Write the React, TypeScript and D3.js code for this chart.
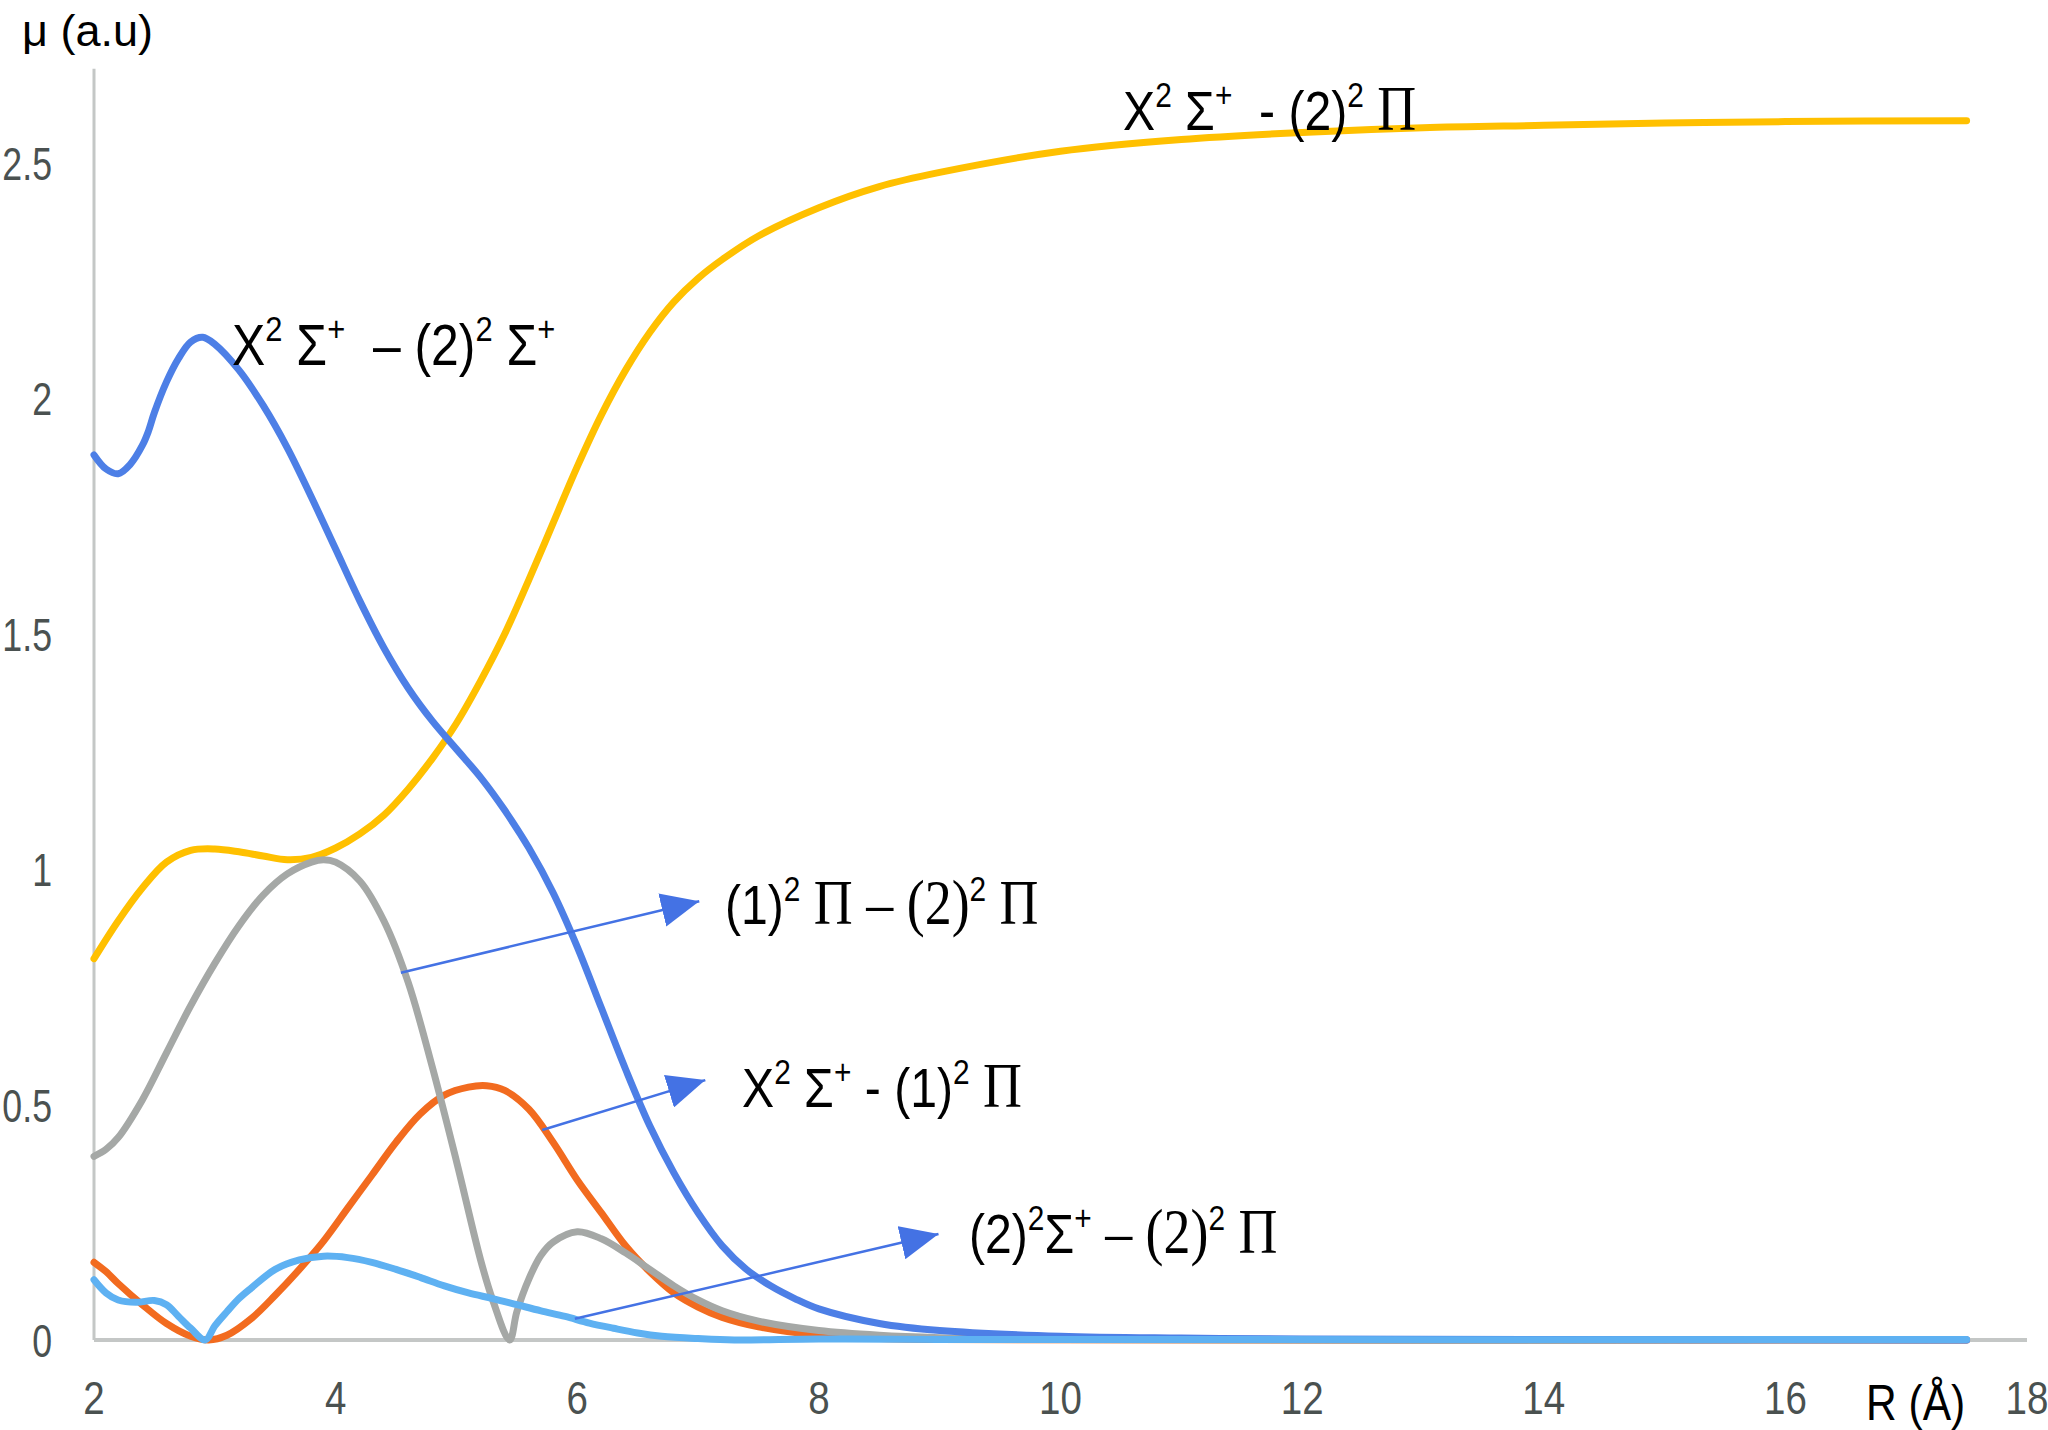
import React from "react";
import * as d3 from "d3";

// ---- data ----
const yellowX = [2, 2.2, 2.4, 2.6, 2.8, 3.0, 3.2, 3.4, 3.6, 3.8, 4.0, 4.2, 4.4, 4.6, 4.8, 5.0, 5.2, 5.4, 5.6, 5.8, 6.0, 6.2, 6.4, 6.6, 6.8, 7.0, 7.2, 7.5, 8, 8.5, 9, 10, 11, 12, 13, 14, 15, 16, 17.5];
const yellowY = [0.81, 0.89, 0.96, 1.015, 1.04, 1.043, 1.037, 1.028, 1.02, 1.025, 1.045, 1.075, 1.115, 1.17, 1.235, 1.31, 1.40, 1.50, 1.615, 1.735, 1.855, 1.965, 2.06, 2.14, 2.205, 2.255, 2.295, 2.345, 2.405, 2.45, 2.48, 2.525, 2.55, 2.565, 2.575, 2.58, 2.585, 2.588, 2.59];

const blueX = [2.0, 2.1, 2.2, 2.3, 2.4, 2.45, 2.5, 2.6, 2.7, 2.8, 2.9, 3.0, 3.2, 3.4, 3.6, 3.8, 4.0, 4.2, 4.4, 4.6, 4.8, 5.0, 5.2, 5.4, 5.6, 5.8, 6.0, 6.2, 6.4, 6.6, 6.8, 7.0, 7.2, 7.4, 7.6, 7.8, 8.0, 8.5, 9, 10, 11, 12, 14, 17.5];
const blueY = [1.88, 1.85, 1.84, 1.86, 1.9, 1.93, 1.97, 2.035, 2.085, 2.12, 2.13, 2.115, 2.06, 1.985, 1.895, 1.79, 1.68, 1.57, 1.47, 1.385, 1.315, 1.255, 1.195, 1.125, 1.045, 0.95, 0.835, 0.705, 0.575, 0.455, 0.355, 0.27, 0.2, 0.15, 0.115, 0.088, 0.066, 0.035, 0.02, 0.008, 0.004, 0.002, 0.001, 0.0];

const grayX = [2.0, 2.1, 2.2, 2.4, 2.6, 2.8, 3.0, 3.2, 3.4, 3.6, 3.8, 3.9, 4.0, 4.2, 4.4, 4.6, 4.8, 5.0, 5.2, 5.3, 5.44, 5.5, 5.6, 5.7, 5.8, 6.0, 6.2, 6.4, 6.6, 6.8, 7.0, 7.2, 7.5, 8.0, 8.5, 9, 10, 17.5];
const grayY = [0.39, 0.405, 0.43, 0.51, 0.61, 0.71, 0.80, 0.88, 0.945, 0.99, 1.015, 1.02, 1.015, 0.975, 0.89, 0.76, 0.58, 0.38, 0.17, 0.085, 0.0, 0.06, 0.13, 0.18, 0.208, 0.23, 0.215, 0.185, 0.15, 0.115, 0.085, 0.062, 0.04, 0.02, 0.01, 0.005, 0.001, 0.0];

const orangeX = [2.0, 2.1, 2.2, 2.4, 2.6, 2.8, 2.95, 3.1, 3.3, 3.5, 3.7, 3.9, 4.1, 4.3, 4.5, 4.7, 4.9, 5.1, 5.25, 5.4, 5.6, 5.8, 6.0, 6.2, 6.4, 6.6, 6.8, 7.0, 7.2, 7.5, 8.0, 8.5, 9, 17.5];
const orangeY = [0.165, 0.145, 0.12, 0.075, 0.035, 0.008, 0.0, 0.01, 0.045, 0.095, 0.15, 0.21, 0.28, 0.35, 0.42, 0.48, 0.52, 0.537, 0.54, 0.53, 0.49, 0.42, 0.34, 0.27, 0.20, 0.145, 0.10, 0.07, 0.048, 0.028, 0.01, 0.003, 0.001, 0.0];

const lightX = [2.0, 2.1, 2.2, 2.35, 2.5, 2.6, 2.7, 2.8, 2.92, 3.0, 3.1, 3.2, 3.3, 3.5, 3.7, 3.9, 4.1, 4.3, 4.5, 4.7, 4.9, 5.1, 5.3, 5.5, 5.7, 5.9, 6.1, 6.3, 6.5, 6.7, 7.0, 7.3, 8, 9, 17.5];
const lightY = [0.128, 0.1, 0.085, 0.08, 0.084, 0.075, 0.05, 0.025, 0.0, 0.03, 0.06, 0.088, 0.11, 0.15, 0.17, 0.178, 0.175, 0.165, 0.15, 0.133, 0.115, 0.10, 0.088, 0.075, 0.062, 0.05, 0.036, 0.025, 0.015, 0.008, 0.003, 0.0, 0.002, 0.001, 0.001];

const xTicks = [2, 4, 6, 8, 10, 12, 14, 16, 18];
const yTicks = [0, 0.5, 1, 1.5, 2, 2.5];

// arrows: [fromX, fromY, toX, toY] in data units
const arrows = [
  [4.54, 0.78, 7.01, 0.932],
  [5.71, 0.446, 7.06, 0.552],
  [5.98, 0.045, 8.99, 0.225],
];

const W = 2048;
const H = 1430;
const x = d3.scaleLinear().domain([2, 18]).range([94, 2027]);
const y = d3.scaleLinear().domain([0, 2.5]).range([1340, 163]);

const SANS = "'Liberation Sans Narrow', 'Liberation Sans', Arial, sans-serif";
const SERIF = "'Liberation Serif', 'Times New Roman', serif";

function path(xs: number[], ys: number[]) {
  const pts = xs.map((v, i) => [v, ys[i]] as [number, number]);
  return d3
    .line<[number, number]>()
    .x((d) => x(d[0]))
    .y((d) => y(d[1]))
    .curve(d3.curveCatmullRom.alpha(0.5))(pts) as string;
}

const series = [
  { xs: yellowX, ys: yellowY, color: "#FFC000" },
  { xs: orangeX, ys: orangeY, color: "#F26B1F" },
  { xs: grayX, ys: grayY, color: "#A5A8A6" },
  { xs: blueX, ys: blueY, color: "#4D7FE6" },
  { xs: lightX, ys: lightY, color: "#5EB1F2" },
];

type Part = { t: string; serif?: boolean; sup?: boolean };

function Label({ px, py, parts, size }: { px: number; py: number; parts: Part[]; size: number }) {
  return (
    <g transform={`translate(${px},${py}) scale(0.86,1)`}>
      <text x={0} y={0} fill="#000" fontSize={size} fontFamily={SANS} style={{ whiteSpace: "pre" }}>
        {parts.map((p, i) => (
          <tspan
            key={i}
            fontFamily={p.serif ? SERIF : SANS}
            fontSize={p.sup ? size * 0.62 : p.serif ? size * 1.12 : size}
            baselineShift={p.sup ? "65%" : undefined}
          >
            {p.t}
          </tspan>
        ))}
      </text>
    </g>
  );
}

export default function App() {
  const arrowColor = "#4472E4";
  return (
    <svg width={W} height={H} style={{ display: "block", position: "absolute", left: 0, top: 0 }}>
      <rect width={W} height={H} fill="#fff" />
      {/* axes */}
      <line x1={x(2)} x2={x(2)} y1={y(2.7)} y2={y(0)} stroke="#C4C7C6" strokeWidth={3} />
      <line x1={x(2)} x2={x(18)} y1={y(0)} y2={y(0)} stroke="#C4C7C6" strokeWidth={4} />
      {xTicks.map((t) => (
        <g key={t} transform={`translate(${x(t)},1414) scale(0.82,1)`}>
          <text textAnchor="middle" fontSize={47} fill="#4A5150" fontFamily={SANS}>
            {t}
          </text>
        </g>
      ))}
      {yTicks.map((t) => (
        <g key={t} transform={`translate(52,${y(t) + 17}) scale(0.76,1)`}>
          <text textAnchor="end" fontSize={47} fill="#4A5150" fontFamily={SANS}>
            {t}
          </text>
        </g>
      ))}
      <g transform="translate(22,46)">
        <text fontSize={45} fill="#000" fontFamily={SANS}>μ (a.u)</text>
      </g>
      <g transform="translate(1866,1420) scale(0.85,1)">
        <text fontSize={50} fill="#000" fontFamily={SANS}>R (Å)</text>
      </g>

      {/* curves */}
      {series.map((s, i) => (
        <path key={i} d={path(s.xs, s.ys)} fill="none" stroke={s.color} strokeWidth={7} strokeLinecap="round" strokeLinejoin="round" />
      ))}

      {/* arrows */}
      <defs>
        <marker id="ah" markerUnits="userSpaceOnUse" markerWidth={40} markerHeight={34} refX={38} refY={17} orient="auto">
          <path d="M0,0 L38,17 L0,34 Z" fill={arrowColor} />
        </marker>
      </defs>
      {arrows.map((a, i) => (
        <line key={i} x1={x(a[0])} y1={y(a[1])} x2={x(a[2])} y2={y(a[3])} stroke={arrowColor} strokeWidth={2.5} markerEnd="url(#ah)" />
      ))}

      {/* labels */}
      <Label px={232} py={365} size={58} parts={[{ t: "X" }, { t: "2", sup: true }, { t: " Σ" }, { t: "+", sup: true }, { t: "  – (2)" }, { t: "2", sup: true }, { t: " Σ" }, { t: "+", sup: true }]} />
      <Label px={1123} py={130} size={56} parts={[{ t: "X" }, { t: "2", sup: true }, { t: " Σ" }, { t: "+", sup: true }, { t: "  - (2)" }, { t: "2", sup: true }, { t: " " }, { t: "Π", serif: true }]} />
      <Label px={725} py={924} size={56} parts={[{ t: "(1)" }, { t: "2", sup: true }, { t: " " }, { t: "Π – (2)", serif: true }, { t: "2", sup: true }, { t: " " }, { t: "Π", serif: true }]} />
      <Label px={742} py={1107} size={56} parts={[{ t: "X" }, { t: "2", sup: true }, { t: " Σ" }, { t: "+", sup: true }, { t: " - (1)" }, { t: "2", sup: true }, { t: " " }, { t: "Π", serif: true }]} />
      <Label px={969} py={1253} size={56} parts={[{ t: "(2)" }, { t: "2", sup: true }, { t: "Σ" }, { t: "+", sup: true }, { t: " – (2)", serif: true }, { t: "2", sup: true }, { t: " " }, { t: "Π", serif: true }]} />
    </svg>
  );
}
